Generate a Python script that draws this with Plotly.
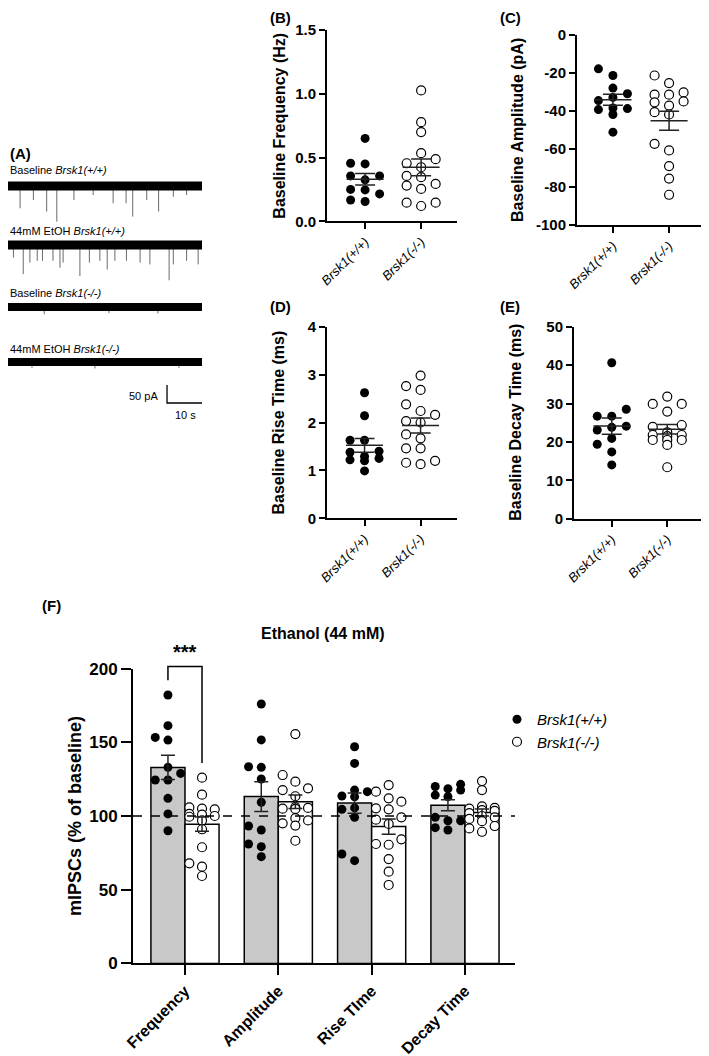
import numpy as np
import plotly.graph_objects as go

W, H = 709, 1056
OFF = 8  # page body margin in the browser
FONT = "Liberation Sans, Arial, Helvetica, sans-serif"

# ---------------- DATA ----------------
# Panel A: example traces (spike times in s, spike amplitudes in pA)
trace_labels = ["Baseline <i>Brsk1(+/+)</i>", "44mM EtOH <i>Brsk1(+/+)</i>",
                "Baseline <i>Brsk1(-/-)</i>", "44mM EtOH <i>Brsk1(-/-)</i>"]
trace_duration = 56.6
spike_times_1 = [4.6, 8.4, 12.2, 15.1, 20.0, 25.5, 31.2, 34.9, 36.8, 40.8, 44.2, 48.4, 52.2]
spike_amps_1 = [62, 39, 71, 99, 39, 25, 48, 48, 85, 39, 71, 30, 25]
spike_times_2 = [2.7, 5.5, 7.4, 9.5, 11.0, 14.0, 16.0, 16.9, 21.7, 24.4, 27.4, 29.5,
                 31.7, 35.0, 38.9, 41.7, 47.2, 48.4, 52.2, 55.5]
spike_amps_2 = [35, 81, 49, 44, 44, 44, 63, 49, 86, 49, 44, 68, 44, 44, 49, 54, 98, 54, 44, 54]
spike_times_3 = [11.5, 30.0, 44.0]
spike_amps_3 = [20, 17, 18]
spike_times_4 = [8.0, 26.0, 50.0]
spike_amps_4 = [16, 18, 16]

genotypes = ["Brsk1(+/+)", "Brsk1(-/-)"]

# Panels B-E: baseline values
freq_wt = [0.65, 0.455, 0.45, 0.356, 0.356, 0.325, 0.25, 0.215, 0.246, 0.155, 0.167]
freq_ko = [1.026, 0.777, 0.70, 0.534, 0.487, 0.455, 0.424, 0.356, 0.346, 0.293, 0.28,
           0.254, 0.12, 0.146, 0.146]
amp_wt = [-17.8, -21.3, -27.9, -30.9, -32.8, -34.5, -38.4, -39.2, -38.7, -41.8, -51.1]
amp_ko = [-21.3, -25.3, -30.2, -31.4, -31.4, -34.9, -37.1, -35.4, -40.6, -41.8, -57.2,
          -60.7, -68.9, -75.5, -84.0]
rise_wt = [2.62, 2.14, 1.63, 1.63, 1.40, 1.38, 1.29, 1.22, 1.20, 1.25, 0.99]
rise_ko = [2.98, 2.68, 2.76, 2.38, 2.16, 2.24, 2.03, 2.0, 1.75, 1.67, 1.46, 1.46, 1.13,
           1.20, 1.16]
decay_wt = [40.6, 28.5, 26.7, 26.7, 23.8, 24.1, 23.1, 20.9, 19.4, 17.4, 14.0]
decay_ko = [31.8, 29.9, 29.9, 27.9, 23.9, 24.4, 22.5, 21.5, 21.8, 21.8, 20.5, 20.5, 20.5,
            19.2, 13.4]

# Panel F: ethanol effect (% of baseline)
eth_categories = ["Frequency", "Amplitude", "Rise TIme", "Decay Time"]
eth_freq_wt = [182.1, 161.3, 151.5, 153.3, 128.9, 133.0, 124.4, 124.4, 112.0, 101.4, 90.0]
eth_freq_ko = [126.0, 114.5, 105.8, 105.0, 104.5, 101.5, 100.9, 100.0, 99.5, 97.0, 91.0,
               78.8, 67.9, 65.6, 59.3]
eth_amp_wt = [176.0, 151.6, 133.0, 133.4, 125.1, 109.3, 93.2, 90.5, 81.0, 79.2, 72.4]
eth_amp_ko = [155.6, 127.8, 123.3, 118.8, 117.6, 113.4, 106.0, 105.5, 105.0, 104.8, 98.5,
              97.0, 95.0, 93.5, 83.2]
eth_rise_wt = [147.0, 135.7, 117.6, 116.5, 113.6, 113.0, 105.5, 104.5, 99.1, 74.2, 69.7]
eth_rise_ko = [121.0, 116.5, 112.0, 109.7, 105.2, 104.5, 99.1, 97.5, 94.6, 84.2, 81.0,
               80.5, 70.8, 62.2, 53.2]
eth_decay_wt = [121.5, 120.0, 118.5, 117.6, 114.2, 113.1, 99.1, 96.8, 96.8, 92.1, 90.5]
eth_decay_ko = [123.7, 117.6, 106.5, 105.5, 105.0, 104.0, 103.5, 102.0, 100.0, 99.1, 98.0,
                96.5, 93.2, 91.6, 89.3]

# ---------------- HELPERS (screen px -> paper) ----------------
def X(p):
    return (p - OFF) / W


def Y(p):
    return 1 - (p - OFF) / H


def xdom(a, b):
    return [max(0.0, X(a)), min(1.0, X(b))]


def ydom(top, bottom):
    return [max(0.0, Y(bottom)), min(1.0, Y(top))]


def mean_sem(v):
    v = np.asarray(v, float)
    return v.mean(), v.std(ddof=1) / np.sqrt(len(v))


def swarm(values, px_per_y, step_units, dmin_px, max_slot=1):
    vals = np.asarray(values, float)
    order = np.argsort(vals)
    slots = np.zeros(len(vals))
    placed = []
    cands = [0]
    for j in range(1, max_slot + 1):
        cands += [-j, j]
    for i in order:
        yp = vals[i] * px_per_y
        best, bestd = None, -1
        for c in cands:
            ds = [abs(py - yp) for py, s in placed if s == c]
            d = min(ds) if ds else 1e9
            if d >= dmin_px:
                best = c
                break
            if d > bestd:
                best, bestd = c, d
        slots[i] = best
        placed.append((yp, best))
    return slots * step_units


fig = go.Figure()


def label(x, y, text, size, xanchor="left", angle=0):
    fig.add_annotation(x=X(x), y=Y(y), xref="paper", yref="paper", text=text,
                       showarrow=False, xanchor=xanchor, yanchor="middle", textangle=angle,
                       font=dict(size=size, color="black"))


axis_base = dict(showline=True, linewidth=2, linecolor="black", ticks="outside",
                 ticklen=6, tickwidth=2, tickcolor="black", showgrid=False,
                 zeroline=False, fixedrange=True, automargin=False)

# ---------------- PANEL A ----------------
A_top, A_bot = 160, 420
A_left, A_right = 4, 202
s_per_px = trace_duration / (A_right - A_left)
pA_per_px = 50 / 18.0
A_range = [-(A_bot - A_top) * pA_per_px, 0]
trace_offsets_px = [186, 245, 307, 362]
label_px = [170, 231, 293, 349]
spike_sets = [(spike_times_1, spike_amps_1), (spike_times_2, spike_amps_2),
              (spike_times_3, spike_amps_3), (spike_times_4, spike_amps_4)]
for k, (ts, am) in enumerate(spike_sets):
    off = -(trace_offsets_px[k] - A_top) * pA_per_px
    xs, ys = [], []
    for t, a in zip(ts, am):
        xs += [t, t, None]
        ys += [off, off - a, None]
    fig.add_trace(go.Scatter(x=xs, y=ys, mode="lines", line=dict(color="#6a6a6a", width=1),
                             xaxis="x", yaxis="y", showlegend=False, hoverinfo="skip"))
    fig.add_trace(go.Scatter(x=[0, trace_duration], y=[off, off], mode="lines",
                             line=dict(color="black", width=9 if k < 2 else 8),
                             xaxis="x", yaxis="y", showlegend=False, hoverinfo="skip"))
    label(8, label_px[k], trace_labels[k], 11)
# scale bar
sb_t0 = trace_duration - 10
sb_y0 = -(403 - A_top) * pA_per_px
fig.add_trace(go.Scatter(x=[sb_t0, sb_t0, sb_t0 + 10], y=[sb_y0 + 50, sb_y0, sb_y0],
                         mode="lines", line=dict(color="black", width=1.3),
                         xaxis="x", yaxis="y", showlegend=False, hoverinfo="skip"))
label(160, 396, "50 pA", 11, xanchor="right")
label(185, 415, "10 s", 11, xanchor="center")
label(8, 153, "<b>(A)</b>", 15)

A_vis_left = max(A_left, OFF)
fig.update_layout(
    xaxis=dict(domain=xdom(A_vis_left, A_right),
               range=[(A_vis_left - A_left) * s_per_px, trace_duration], visible=False,
               fixedrange=True, automargin=False),
    yaxis=dict(domain=ydom(A_top, A_bot), range=A_range, visible=False,
               fixedrange=True, automargin=False),
)

# ---------------- PANELS B-E ----------------
panels = [
    dict(n=2, wt=freq_wt, ko=freq_ko, xd=(327, 457), yd=(30, 221.3), xr=[-0.68, 1.64],
         yr=[0, 1.5], tv=[0, 0.5, 1.0, 1.5], tt=["0.0", "0.5", "1.0", "1.5"],
         title="Baseline Frequency (Hz)", tx=280, lab="(B)", lx=268, ly=17),
    dict(n=3, wt=amp_wt, ko=amp_ko, xd=(577, 705), yd=(35, 225.2), xr=[-0.64, 1.64],
         yr=[-100, 0], tv=[-100, -80, -60, -40, -20, 0],
         tt=["-100", "-80", "-60", "-40", "-20", "0"],
         title="Baseline Amplitude (pA)", tx=517, lab="(C)", lx=498, ly=17),
    dict(n=4, wt=rise_wt, ko=rise_ko, xd=(327, 457), yd=(326.7, 518.3), xr=[-0.67, 1.65],
         yr=[0, 4], tv=[0, 1, 2, 3, 4], tt=["0", "1", "2", "3", "4"],
         title="Baseline Rise Time (ms)", tx=278, lab="(D)", lx=268, ly=306),
    dict(n=5, wt=decay_wt, ko=decay_ko, xd=(574, 705), yd=(326.7, 518.7), xr=[-0.68, 1.68],
         yr=[0, 50], tv=[0, 10, 20, 30, 40, 50], tt=["0", "10", "20", "30", "40", "50"],
         title="Baseline Decay Time (ms)", tx=516, lab="(E)", lx=498, ly=306),
]

for p in panels:
    n = p["n"]
    xa, ya = f"x{n}", f"y{n}"
    xw = p["xd"][1] - p["xd"][0]
    yh = p["yd"][1] - p["yd"][0]
    px_per_xu = xw / (p["xr"][1] - p["xr"][0])
    px_per_yu = yh / (p["yr"][1] - p["yr"][0])
    step = 14.5 / px_per_xu
    for gi, (vals, filled) in enumerate([(p["wt"], True), (p["ko"], False)]):
        offs = swarm(vals, px_per_yu, step, 8.5)
        fig.add_trace(go.Scatter(
            x=gi + offs, y=vals, mode="markers", xaxis=xa, yaxis=ya, showlegend=False,
            marker=dict(size=9, color="black" if filled else "white",
                        line=dict(color="black", width=0 if filled else 1.2)),
            hoverinfo="skip"))
        m, s = mean_sem(vals)
        fig.add_trace(go.Scatter(x=[gi - 0.33, gi + 0.33], y=[m, m], mode="lines",
                                 line=dict(color="#222", width=1.5), xaxis=xa, yaxis=ya,
                                 showlegend=False, hoverinfo="skip"))
        fig.add_trace(go.Scatter(x=[gi], y=[m], mode="markers",
                                 marker=dict(size=1, color="rgba(0,0,0,0)"),
                                 error_y=dict(type="data", array=[s], color="#222",
                                              thickness=1.5, width=10),
                                 xaxis=xa, yaxis=ya, showlegend=False, hoverinfo="skip"))
    fig.layout[f"xaxis{n}"] = dict(axis_base, domain=xdom(*p["xd"]), range=p["xr"],
                                   anchor=ya, tickvals=[0, 1], ticktext=genotypes,
                                   tickangle=-45,
                                   tickfont=dict(family=FONT, size=13, color="black",
                                                 style="italic"))
    fig.layout[f"yaxis{n}"] = dict(axis_base, domain=ydom(*p["yd"]), range=p["yr"],
                                   anchor=xa, tickvals=p["tv"], ticktext=p["tt"],
                                   tickfont=dict(family=FONT, size=15, color="black",
                                                 weight="bold"))
    ycen = (p["yd"][0] + p["yd"][1]) / 2
    label(p["tx"], ycen, f"<b>{p['title']}</b>", 16, xanchor="center", angle=-90)
    label(p["lx"], p["ly"], f"<b>{p['lab']}</b>", 15)

# ---------------- PANEL F ----------------
F_xd = (133, 515)
F_yd = (668.6, 963.4)
F_xr = [-0.557, 3.536]
F_yr = [0, 200]
Fpx_x = (F_xd[1] - F_xd[0]) / (F_xr[1] - F_xr[0])
Fpx_y = (F_yd[1] - F_yd[0]) / (F_yr[1] - F_yr[0])
bw = 0.365

eth_wt = [eth_freq_wt, eth_amp_wt, eth_rise_wt, eth_decay_wt]
eth_ko = [eth_freq_ko, eth_amp_ko, eth_rise_ko, eth_decay_ko]
ci = np.arange(len(eth_categories))
wt_ms = [mean_sem(v) for v in eth_wt]
ko_ms = [mean_sem(v) for v in eth_ko]

fig.add_trace(go.Bar(x=ci - bw / 2, y=[m for m, s in wt_ms], width=bw, xaxis="x6", yaxis="y6",
                     marker=dict(color="#c8c8c8", line=dict(color="black", width=1.5)),
                     showlegend=False, hoverinfo="skip"))
fig.add_trace(go.Bar(x=ci + bw / 2, y=[m for m, s in ko_ms], width=bw, xaxis="x6", yaxis="y6",
                     marker=dict(color="white", line=dict(color="black", width=1.5)),
                     showlegend=False, hoverinfo="skip"))

step_F = 12.7 / Fpx_x
for k in range(len(eth_categories)):
    for gi, (vals, filled, sign) in enumerate([(eth_wt[k], True, -1), (eth_ko[k], False, 1)]):
        offs = swarm(vals, Fpx_y, step_F, 8.0)
        fig.add_trace(go.Scatter(
            x=k + sign * bw / 2 + offs, y=vals, mode="markers", xaxis="x6", yaxis="y6",
            name=f"<i>{genotypes[gi]}</i>", legendgroup=genotypes[gi],
            showlegend=(k == 0),
            marker=dict(size=9, color="black" if filled else "white",
                        line=dict(color="black", width=0 if filled else 1.2)),
            hoverinfo="skip"))
for gi, (ms, sign) in enumerate([(wt_ms, -1), (ko_ms, 1)]):
    fig.add_trace(go.Scatter(x=ci + sign * bw / 2, y=[m for m, s in ms], mode="markers",
                             marker=dict(size=1, color="rgba(0,0,0,0)"),
                             error_y=dict(type="data", array=[s for m, s in ms], color="#222",
                                          thickness=1.5, width=7),
                             xaxis="x6", yaxis="y6", showlegend=False, hoverinfo="skip"))

fig.layout["xaxis6"] = dict(axis_base, domain=xdom(*F_xd), range=F_xr, anchor="y6",
                            tickvals=list(ci), ticktext=eth_categories, tickangle=-45,
                            ticklen=10,
                            tickfont=dict(family=FONT, size=16, color="black", weight="bold"))
fig.layout["yaxis6"] = dict(axis_base, domain=ydom(*F_yd), range=F_yr, anchor="x6",
                            tickvals=[0, 50, 100, 150, 200], ticklen=10,
                            tickfont=dict(family=FONT, size=17, color="black", weight="bold"))

# dashed baseline at 100 %
fig.add_shape(type="line", xref="x6 domain", yref="y6", x0=0, x1=1, y0=100, y1=100,
              line=dict(color="black", width=1.5, dash="dash"), layer="above")


def Fx(v):
    return X(F_xd[0] + (v - F_xr[0]) * Fpx_x)


def Fy(v):
    return Y(F_yd[1] - v * Fpx_y)


# significance bracket (Frequency)
br_top = 201.5
left_bot = max(eth_freq_wt) + 10
right_bot = max(eth_freq_ko) + 10
fig.add_shape(type="path", xref="paper", yref="paper",
              path=(f"M {Fx(-bw/2)} {Fy(left_bot)} L {Fx(-bw/2)} {Fy(br_top)} "
                    f"L {Fx(bw/2)} {Fy(br_top)} L {Fx(bw/2)} {Fy(right_bot)}"),
              line=dict(color="black", width=1.5))
fig.add_annotation(x=Fx(0), y=Fy(br_top) + 1 / H, xref="paper", yref="paper",
                   text="<b>***</b>", showarrow=False, xanchor="center", yanchor="bottom",
                   font=dict(size=20, color="black"))

F_ycen = (F_yd[0] + F_yd[1]) / 2
label(75, F_ycen, "<b>mIPSCs (% of baseline)</b>", 18, xanchor="center", angle=-90)
label(323, 633, "<b>Ethanol (44 mM)</b>", 16, xanchor="center")
label(40, 605, "<b>(F)</b>", 15)

fig.update_layout(
    template="none",
    width=W, height=H, autosize=False,
    margin=dict(l=0, r=0, t=0, b=0, pad=0, autoexpand=False),
    paper_bgcolor="white", plot_bgcolor="white",
    font=dict(family=FONT, color="black"),
    barmode="overlay",
    showlegend=True,
    legend=dict(x=X(497), y=Y(703), xanchor="left", yanchor="top",
                font=dict(size=15, color="black"), bgcolor="rgba(0,0,0,0)",
                traceorder="grouped", tracegroupgap=0, borderwidth=0),
)

fig.write_html("out.html")
